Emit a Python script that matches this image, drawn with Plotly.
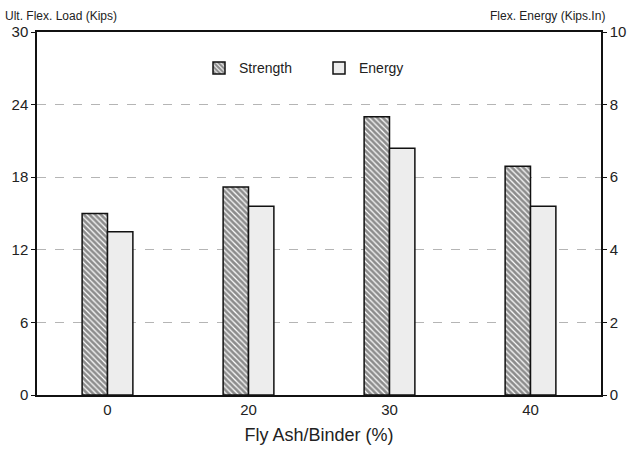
import plotly.graph_objects as go

categories = ["0", "20", "30", "40"]
strength_kips = [15.0, 17.2, 23.0, 18.9]
energy_kips_in = [4.5, 5.2, 6.8, 5.2]
left_ticks = [0, 6, 12, 18, 24, 30]
right_ticks = [0, 2, 4, 6, 8, 10]

FONT = "Liberation Sans"
TXT = "#222222"

fig = go.Figure()
fig.add_trace(go.Bar(
    x=categories, y=strength_kips, name="Strength", offsetgroup="1",
    marker=dict(color="white", line=dict(color="#111111", width=1.5),
                pattern=dict(shape="\\", fgcolor="#1a1a1a", bgcolor="white",
                             size=4, solidity=0.7)),
    yaxis="y",
))
fig.add_trace(go.Bar(
    x=categories, y=energy_kips_in, name="Energy", offsetgroup="2",
    marker=dict(color="#ededed", line=dict(color="#111111", width=1.5)),
    yaxis="y2",
))

fig.update_layout(
    width=633, height=449,
    margin=dict(l=37, r=32, t=32, b=54),
    paper_bgcolor="white", plot_bgcolor="white",
    barmode="group", bargap=0.64, bargroupgap=0,
    font=dict(family=FONT, color=TXT, size=15),
    showlegend=True,
    legend=dict(orientation="h", x=0.5, xanchor="center", y=0.9, yanchor="middle",
                font=dict(size=14, color=TXT), bgcolor="rgba(0,0,0,0)",
                itemwidth=30, entrywidth=75, traceorder="normal"),
    title=dict(text="Ult. Flex. Load (Kips)", x=5 / 633, xanchor="left",
               xref="container", y=1 - 16 / 449, yanchor="middle", yref="container",
               font=dict(size=12, color=TXT)),
    xaxis=dict(
        type="category", showline=True, linecolor="#111111", linewidth=1.5,
        mirror=True, ticks="", tickfont=dict(size=15), automargin=False,
        title=dict(text="Fly Ash/Binder (%)", font=dict(size=18), standoff=12),
    ),
    yaxis=dict(
        range=[0, 30], tickvals=left_ticks, showline=True, linecolor="#111111",
        linewidth=1.5, ticks="outside", ticklen=4, tickcolor="#111111",
        showgrid=True, gridcolor="#b5b5b5", griddash="dash", gridwidth=1,
        tickfont=dict(size=15), zeroline=False, automargin=False,
    ),
    yaxis2=dict(
        range=[0, 10], tickvals=right_ticks, overlaying="y", side="right",
        showline=True, linecolor="#111111", linewidth=1.5, ticks="outside",
        ticklen=4, tickcolor="#111111", showgrid=False, zeroline=False,
        tickfont=dict(size=15), automargin=False,
    ),
    annotations=[
        dict(text="Flex. Energy (Kips.In)", x=1 + 6 / 564, y=1 + 16 / 363,
             xref="paper", yref="paper", xanchor="right", yanchor="middle",
             showarrow=False, font=dict(size=12, color=TXT)),
    ],
)

fig.write_html("out.html")
